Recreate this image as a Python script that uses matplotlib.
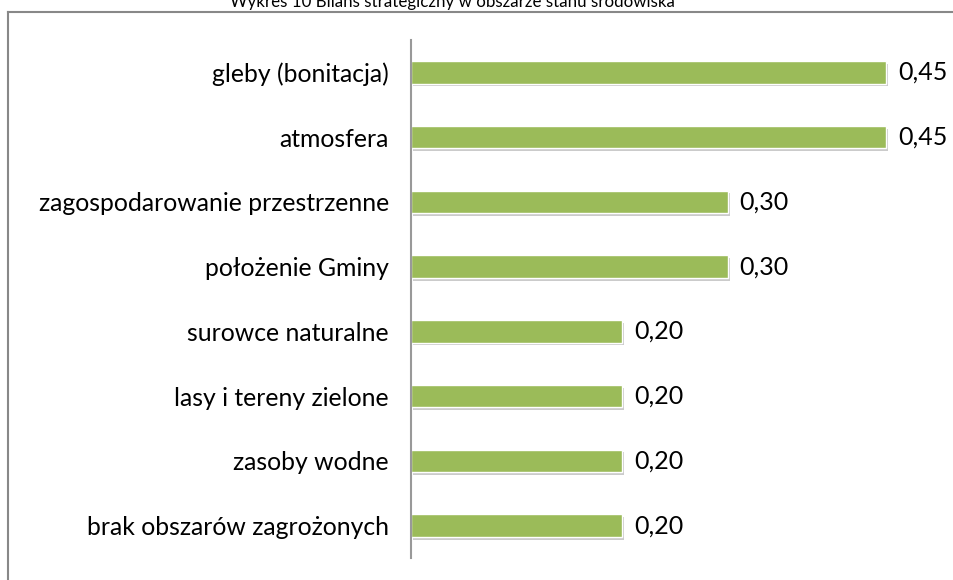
import matplotlib.pyplot as plt
import matplotlib.patheffects as pe
from matplotlib.lines import Line2D

# data
categories = ['gleby (bonitacja)', 'atmosfera', 'zagospodarowanie przestrzenne',
              'położenie Gminy', 'surowce naturalne', 'lasy i tereny zielone',
              'zasoby wodne', 'brak obszarów zagrożonych']
values = [0.45, 0.45, 0.30, 0.30, 0.20, 0.20, 0.20, 0.20]
value_labels = ['0,45', '0,45', '0,30', '0,30', '0,20', '0,20', '0,20', '0,20']
title = 'Wykres 10 Bilans strategiczny w obszarze stanu środowiska'

plt.rcParams['font.family'] = ['Lato', 'DejaVu Sans']

fig = plt.figure(figsize=(9.54, 5.8), dpi=100)
ax = fig.add_axes([411 / 954, 22 / 580, 528 / 954, 518 / 580])

pos = list(range(len(categories)))[::-1]
bars = ax.barh(pos, values, height=0.35, color='#9BBB59', edgecolor='white',
               linewidth=1)
for b in bars:
    b.set_path_effects([pe.SimplePatchShadow(offset=(1.5, -2), shadow_rgbFace='#999999', alpha=0.5),
                        pe.Normal()])

for p, v, lab in zip(pos, values, value_labels):
    ax.text(v + 0.011, p, lab, va='center', ha='left', fontsize=18, color='black')

ax.set_xlim(0, 0.5)
ax.set_ylim(-0.5, len(categories) - 0.5)
ax.set_yticks(pos)
ax.set_yticklabels(categories, fontsize=17.8)
ax.tick_params(axis='y', length=0, pad=16)
ax.set_xticks([])
for s in ['top', 'right', 'bottom']:
    ax.spines[s].set_visible(False)
ax.spines['left'].set_color('#999999')
ax.spines['left'].set_linewidth(1.5)

# outer chart frame (partly visible)
fig.add_artist(Line2D([8 / 954, 1.0], [1 - 12 / 580, 1 - 12 / 580], color='#888888', lw=1.5))
fig.add_artist(Line2D([8 / 954, 8 / 954], [0, 1 - 12 / 580], color='#888888', lw=1.5))

fig.text(452 / 954, 1 - 7 / 580, title, ha='center', va='baseline', fontsize=12.2)

fig.savefig('out.png', dpi=100)
